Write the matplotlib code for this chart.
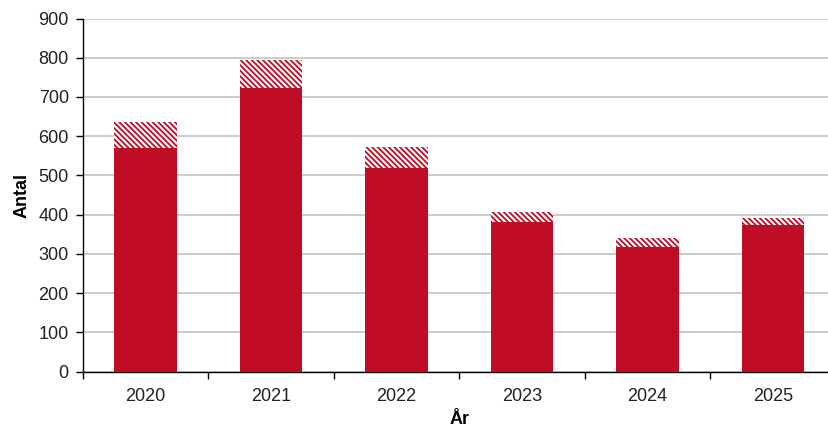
import matplotlib
matplotlib.use("Agg")
import matplotlib.pyplot as plt
import numpy as np

plt.rcParams['font.family'] = ['Liberation Sans', 'DejaVu Sans']
plt.rcParams['hatch.linewidth'] = 1.5

years = ['2020', '2021', '2022', '2023', '2024', '2025']
confirmed = [569, 723, 518, 382, 318, 374]
additional = [68, 70, 54, 24, 22, 18]
yticks = [0, 100, 200, 300, 400, 500, 600, 700, 800, 900]

red = '#C00C25'
fs = 13

fig = plt.figure(figsize=(8.29, 4.28), dpi=100)
ax = fig.add_axes([82.7 / 829, 1 - 371.5 / 428, 753 / 829, (371.5 - 18.5) / 428])

x = np.arange(len(years))
ax.bar(x, confirmed, width=0.5, color=red, linewidth=0, zorder=3)
ax.bar(x, additional, width=0.5, bottom=confirmed, facecolor=red,
       edgecolor='white', hatch='\\' * 6, linewidth=0, zorder=3)

ax.set_xlim(-0.5, len(years) - 0.5)
ax.set_ylim(0, 900)
ax.set_yticks(yticks)
ax.set_yticklabels([str(v) for v in yticks])
ax.yaxis.grid(True, color='#c4c4c4', linewidth=1.2, zorder=0)
ax.set_axisbelow(True)

ax.set_xticks(x)
ax.set_xticklabels(years)
ax.set_xticks(np.arange(len(years) + 1) - 0.5, minor=True)
ax.tick_params(axis='x', which='major', length=0, pad=12, labelsize=fs, colors='#222222')
ax.tick_params(axis='x', which='minor', length=5, width=1, direction='out', color='black')
ax.tick_params(axis='y', length=5, width=1, direction='out', pad=5, labelsize=fs, colors='#222222')
ax.tick_params(axis='y', color='black')

for s in ['top', 'right']:
    ax.spines[s].set_visible(False)
ax.spines['left'].set_linewidth(1)
ax.spines['bottom'].set_linewidth(1)

ax.set_ylabel('Antal', fontsize=fs, fontweight='bold', labelpad=6)
ax.set_xlabel('År', fontsize=fs, fontweight='bold', labelpad=4)

fig.savefig('out.png', dpi=100)
